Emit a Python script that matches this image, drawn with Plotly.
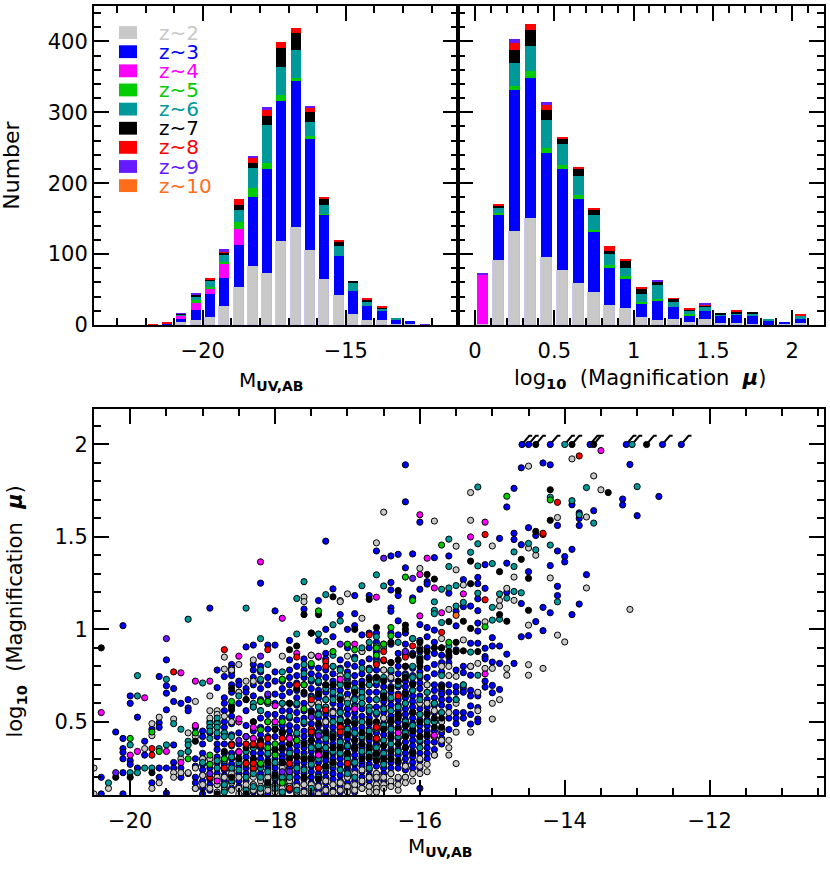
import plotly.graph_objects as go

W, H = 830, 882

# stacked histograms, counts read per bin
z_labels = ["z~2", "z~3", "z~4", "z~5", "z~6", "z~7", "z~8", "z~9", "z~10"]
z_colors = ["#c8c8c8", "#0000ff", "#ff00ff", "#00cc00", "#009999", "#000000", "#ff0000", "#6619ff", "#ff6d1a"]

muv_bins = [-21.75, -21.25, -20.75, -20.25, -19.75, -19.25, -18.75, -18.25, -17.75, -17.25, -16.75,
            -16.25, -15.75, -15.25, -14.75, -14.25, -13.75, -13.25, -12.75, -12.25]
muv_z2 = [0, 0, 5, 7, 11, 27, 54, 84, 74, 119, 138, 106, 65, 42, 15, 7, 7, 2, 1, 0]
muv_z3 = [0, 2, 3, 15, 33, 40, 59, 97, 146, 197, 206, 157, 91, 55, 33, 20, 13, 6, 5, 0]
muv_z4 = [0, 0, 6, 9, 8, 19, 23, 0, 0, 0, 0, 0, 0, 0, 0, 0, 0, 0, 0, 0]
muv_z5 = [0, 0, 0, 4, 2, 3, 9, 13, 8, 8, 5, 3, 1, 0, 0, 0, 0, 0, 0, 0]
muv_z6 = [0, 0, 1, 6, 9, 10, 17, 27, 54, 40, 39, 21, 13, 14, 12, 5, 3, 2, 0, 0]
muv_z7 = [0, 0, 1, 2, 1, 3, 8, 8, 13, 27, 24, 14, 9, 7, 2, 4, 2, 0, 0, 0]
muv_z8 = [1, 1, 0, 0, 3, 1, 8, 7, 8, 8, 7, 6, 2, 1, 0, 2, 1, 0, 0, 0]
muv_z9 = [0, 0, 1, 1, 0, 4, 0, 3, 4, 0, 0, 2, 0, 0, 0, 0, 0, 0, 0, 1]

mag_bins = [0.05, 0.15, 0.25, 0.35, 0.45, 0.55, 0.65, 0.75, 0.85, 0.95, 1.05,
            1.15, 1.25, 1.35, 1.45, 1.55, 1.65, 1.75, 1.85, 1.95, 2.05]
mag_z2 = [2, 92, 133, 151, 96, 78, 60, 46, 28, 24, 11, 7, 8, 5, 9, 3, 3, 2, 0, 1, 3]
mag_z3 = [0, 64, 199, 198, 146, 142, 118, 86, 52, 41, 19, 28, 17, 9, 11, 10, 12, 11, 6, 4, 6]
mag_z4 = [69, 0, 0, 0, 0, 0, 0, 0, 0, 0, 0, 0, 0, 0, 0, 0, 0, 0, 0, 0, 0]
mag_z5 = [0, 2, 5, 10, 8, 6, 6, 2, 5, 4, 2, 2, 0, 1, 0, 1, 0, 0, 1, 0, 0]
mag_z6 = [1, 7, 32, 35, 39, 30, 26, 21, 15, 11, 12, 19, 8, 5, 5, 1, 1, 4, 1, 0, 4]
mag_z7 = [0, 3, 19, 22, 14, 6, 10, 8, 5, 10, 8, 5, 4, 2, 3, 1, 3, 1, 0, 0, 1]
mag_z8 = [0, 3, 10, 8, 8, 3, 3, 1, 7, 3, 2, 0, 1, 1, 1, 0, 1, 0, 0, 0, 1]
mag_z9 = [1, 0, 5, 0, 3, 0, 0, 0, 0, 0, 0, 2, 0, 0, 1, 0, 0, 0, 0, 0, 0]

muv_stack = [muv_z2, muv_z3, muv_z4, muv_z5, muv_z6, muv_z7, muv_z8, muv_z9]
mag_stack = [mag_z2, mag_z3, mag_z4, mag_z5, mag_z6, mag_z7, mag_z8, mag_z9]

# scatter: one list of mu values per MUV column
z2_cols = [-20.5, -20.3, -19.8, -19.7, -19.6, -19.4, -19.3, -19.2, -19.1, -19.0, -18.9, -18.8, -18.7, -18.6, -18.5,
           -18.4, -18.3, -18.2, -18.1, -18.0, -17.9, -17.8, -17.7, -17.6, -17.5, -17.4, -17.3, -17.2, -17.1, -17.0,
           -16.9, -16.8, -16.7, -16.6, -16.5, -16.4, -16.3, -16.2, -16.1, -16.0, -15.9, -15.8, -15.7, -15.6, -15.5,
           -15.4, -15.3, -15.2, -15.1, -15.0, -14.9, -14.8, -14.7, -14.5, -14.4, -14.3, -14.2, -14.1, -14.0, -13.9,
           -13.7, -13.6, -13.5, -13.1]
z2_mu = [[.25, .11], [.14], [.355], [.49, .425, .14], [.525, .17], [.515, .225, .2], [.3, .225], [.44, .225],
         [.61, .42, .25, .14], [.3, .21, .16], [.64, .56, .52, .3, .27, .14], [.56, .54, .49, .47, .2, .16, .12],
         [.85, .785, .53, .2, .16, .13], [.78, .5, .38, .22, .17, .13], [.81, .66, .2, .14, .11], [.72, .2, .16, .13],
         [.835, .72, .2, .16, .13], [.18, .15, .12], [.2, .16, .13], [.2, .15, .12], [.855, .25, .18, .14, .11],
         [.18, .15], [.7, .15, .12], [1.175, 1.15, .7, .2, .16, .12], [.86, .6, .16, .13], [.72, .6, .2, .15, .11],
         [.5, .18, .13], [.55, .16, .12], [1.156, 1.15, .75, .17, .13], [1.192, .855, .62, .2, .15, .12],
         [.22, .16, .13], [1.06, .88, .24, .18, .14], [.78, .2, .15, .12], [1.468, .22, .2, .16, .14, .12],
         [1.634, .78, .52, .2, .16, .14], [.74, .22, .18, .15], [.2, .16, .13], [.26, .2, .17], [.22, .18],
         [1.33, .9, .6, .3, .26, .22], [.7, .6, .27, .23], [1.586, .6, .56, .42, .32], [.95, .8, .5, .46, .4],
         [1.108, .8, .75, .55, .4, .36, .32], [1.45, 1.322, .746, .6, .444, .274], [1.24, .943, .7], [1.74, 1.59, .8, .444],
         [.816, .66, .56], [1.041, .789], [1.451, .789, .6, .515], [1.157, 1.126, .62], [1.222, .789, .752], [1.283, 1.157],
         [1.883, 1.44, 1.023, .809, .752], [1.401], [.789], [1.278], [1.605, .969], [.932], [1.922],
         [1.608, 1.224], [1.83], [1.755], [1.108]]

z3_cols = [-20.4, -20.2, -20.1, -20.0, -19.9, -19.8, -19.7, -19.6, -19.5, -19.4, -19.3, -19.2, -19.1, -19.0, -18.9,
           -18.8, -18.7, -18.6, -18.5, -18.4, -18.3, -18.2, -18.1, -18.0, -17.9, -17.8, -17.7, -17.6, -17.5, -17.4,
           -17.3, -17.2, -17.1, -17.0, -16.9, -16.8, -16.7, -16.6, -16.5, -16.4, -16.3, -16.2, -16.1, -16.0, -15.9,
           -15.8, -15.7, -15.6, -15.5, -15.4, -15.3, -15.2, -15.1, -15.0, -14.9, -14.8, -14.7, -14.6, -14.5, -14.4,
           -14.3, -14.2, -14.1, -14.0, -13.9, -13.8, -13.7, -13.6, -13.2, -13.1, -13.0, -12.7]
z3_mu = [[.2, .11], [.445], [1.02, .41, .355, .335, .3, .225, .11], [.64, .6, .29, .27], [.525, .25], [.395, .32],
         [.46, .17], [.745, .495, .47, .25, .2], [.835, .695, .655, .565, .25, .115], [.68, .61, .375, .28, .25],
         [.6, .25, .2], [.62, .575, .56, .34, .22], [.47, .3, .26, .2, .17, .14],
         [.45, .42, .38, .33, .3, .27, .24, .21, .18, .14, .11],
         [1.115, .5, .47, .44, .3, .27, .25, .22, .19, .16, .13],
         [.78, .685, .5, .42, .38, .35, .31, .28, .25, .22, .19, .16],
         [.745, .63, .6, .56, .5, .47, .44, .38, .33, .3, .27, .24, .21, .18, .14],
         [.81, .79, .77, .75, .7, .66, .58, .53, .49, .43, .38, .33, .3, .27, .24, .21, .14],
         [.72, .7, .66, .6, .5, .44, .38, .33, .3, .26, .22, .18, .15],
         [.905, .68, .66, .62, .56, .48, .42, .38, .34, .31, .28, .25, .22, .18, .14, .11],
         [.915, .81, .78, .74, .7, .64, .58, .5, .45, .41, .36, .33, .3, .27, .24, .21, .16, .12],
         [1.25, .8, .77, .72, .68, .62, .56, .52, .47, .43, .39, .36, .33, .3, .27, .25, .22, .19, .13, .11],
         [.915, .74, .7, .64, .6, .54, .5, .46, .42, .38, .35, .32, .29, .26, .24, .21, .18, .15, .11],
         [1.1, .915, .77, .72, .65, .6, .54, .5, .46, .42, .38, .35, .33, .3, .27, .25, .22, .19, .16, .13],
         [.72, .68, .64, .6, .56, .52, .48, .45, .41, .38, .35, .32, .3, .27, .24, .21, .19, .16, .13, .11],
         [.94, .835, .78, .74, .7, .66, .6, .56, .52, .48, .45, .42, .38, .35, .32, .3, .27, .25, .22, .19, .16, .13],
         [.8, .75, .71, .67, .63, .59, .55, .51, .47, .43, .4, .37, .34, .31, .28, .26, .23, .2, .17, .14, .11],
         [1.11, .84, .78, .74, .7, .65, .6, .56, .52, .49, .45, .42, .39, .36, .33, .3, .28, .25, .22, .19, .16, .13],
         [.98, .86, .8, .76, .72, .68, .64, .6, .56, .53, .49, .46, .43, .4, .37, .34, .31, .29, .26, .23, .2, .17, .14, .11],
         [1.156, .94, .85, .79, .75, .71, .67, .63, .59, .55, .52, .48, .45, .42, .39, .36, .33, .31, .28, .25, .22, .19, .16, .13],
         [1.477, 1.0, .87, .84, .78, .74, .7, .66, .62, .58, .54, .51, .48, .45, .42, .39, .36, .34, .31, .29, .26, .23, .2, .17, .14, .11],
         [1.219, .96, .8, .76, .72, .68, .64, .6, .56, .53, .5, .47, .44, .41, .38, .36, .33, .3, .28, .25, .22, .19, .16, .13],
         [1.08, .835, .79, .75, .71, .67, .63, .59, .56, .52, .49, .46, .43, .4, .37, .35, .32, .3, .27, .24, .21, .18, .15, .12],
         [1.0, .9, .81, .77, .73, .69, .65, .61, .57, .54, .5, .47, .44, .41, .38, .36, .33, .31, .28, .25, .23, .2, .17, .14],
         [1.183, 1.085, 1.02, .85, .8, .75, .71, .67, .63, .59, .55, .52, .49, .46, .43, .4, .37, .35, .32, .29, .27, .24, .21, .18, .15, .12],
         [.97, .88, .82, .76, .72, .68, .64, .6, .57, .53, .5, .47, .44, .41, .38, .36, .33, .31, .28, .26, .23, .2, .17, .14],
         [1.183, .98, .9, .84, .79, .74, .7, .66, .62, .58, .55, .52, .49, .46, .43, .4, .37, .35, .32, .3, .27, .24, .21, .18, .15],
         [1.424, .98, .93, .88, .84, .78, .74, .7, .66, .62, .58, .54, .5, .47, .44, .41, .38, .35, .32, .29, .26, .22, .19, .16, .13],
         [.92, .83, .78, .73, .69, .65, .61, .58, .55, .52, .49, .46, .43, .4, .37, .34, .31, .28, .25, .22, .18],
         [1.397, 1.254, 1.213, 1.116, 1.098, .98, .92, .82, .77, .73, .69, .66, .62, .59, .56, .53, .5, .47, .44, .41, .38, .35, .32, .28, .25, .22, .16],
         [1.406, 1.183, 1.046, .97, .87, .8, .76, .72, .69, .65, .62, .59, .56, .53, .5, .47, .44, .41, .38, .35, .32, .28, .25, .19],
         [1.89, 1.69, 1.333, .98, .92, .86, .8, .76, .72, .69, .66, .63, .6, .57, .54, .51, .48, .45, .42, .39, .36, .33, .3, .27, .24, .2],
         [1.408, 1.17, .95, .87, .79, .75, .71, .67, .64, .61, .58, .55, .52, .49, .46, .43, .4, .37, .34, .31, .28, .25],
         [1.58, 1.217, 1.026, .94, .88, .83, .77, .74, .71, .68, .64, .6, .57, .54, .51, .48, .45, .42, .39, .36, .33, .29, .25, .14],
         [1.258, 1.245, 1.01, .96, .9, .85, .79, .74, .7, .66, .62, .58, .55, .51, .48, .45, .42, .39, .36, .33, .3],
         [1.388, .996, .93, .87, .81, .76, .7, .67, .63, .59, .55, .5, .45, .42, .39, .35, .32],
         [.9, .86, .82, .77, .7, .67, .65, .62, .59, .55, .5, .44, .41, .38],
         [1.397, 1.196, .85, .82, .7, .66, .62, .58, .52, .458],
         [1.098, 1.019, .889, .78, .69, .66, .62, .55, .52, .49],
         [1.269, 1.123, .8, .766, .68, .66, .55, .52],
         [1.126, .925, .8, .752, .67, .64, .586, .54, .488],
         [1.281, 1.247, 1.165, 1.101, 1.034, .991, .925, .657, .64, .577, .515, .5],
         [1.35, 1.222, .898, .853, .84, .72, .688], [.955, .91, .823, .697, .657], [1.492, .91, .816, .675],
         [1.662, 1.358, 1.2, .866], [1.763, 1.52, 1.486, .816], [1.874, 1.458, 1.14, .96], [1.55, 1.312, .966],
         [1.508, 1.042], [1.9, 1.119, .993], [1.89, 1.09, 1.345], [1.562, 1.424, 1.233, 1.183], [1.394, 1.365],
         [1.674, 1.433, 1.08], [1.63, 1.6, 1.562, 1.137], [1.296], [1.642], [1.705, 1.673], [1.892], [1.615], [1.719]]

z6_cols = [-20.3, -20.0, -19.9, -19.8, -19.7, -19.6, -19.5, -19.4, -19.3, -19.2, -19.0, -18.9, -18.8, -18.7, -18.6,
           -18.5, -18.4, -18.3, -18.2, -18.1, -18.0, -17.9, -17.8, -17.7, -17.6, -17.5, -17.4, -17.3, -17.2, -17.1,
           -17.0, -16.9, -16.8, -16.7, -16.6, -16.5, -16.4, -16.3, -16.2, -16.1, -16.0, -15.9, -15.8, -15.7, -15.6,
           -15.5, -15.4, -15.3, -15.2, -15.0, -14.9, -14.8, -14.7, -14.6, -14.5, -14.4, -14.2, -14.1, -13.9, -13.8,
           -13.7, -13.6, -13.0]
z6_mu = [[.17], [.375, .225], [.75, .64, .225], [.25], [.25], [.355], [.73, .375], [.49], [.46, .33],
         [1.055, .395, .375, .34], [.71, .28], [.49, .47, .45, .41], [.52, .49, .47, .44, .29, .25],
         [.44, .42, .29, .16, .12], [.42, .37, .31, .25, .18], [.64, .28, .24], [1.115, .34, .27, .2, .13],
         [.6, .58, .36, .28, .22, .15], [.95, .78, .73, .56, .37, .25, .2, .14], [.81, .6, .33, .23, .16],
         [.48, .46, .28, .2, .14], [.77, .6, .44, .28, .2, .12], [.6, .53, .41, .33, .2],
         [1.167, .975, .6, .44, .4, .25, .13], [1.258, .81, .76, .5, .31, .24], [.73, .63, .44, .4, .36, .27, .14],
         [.975, .72, .65, .58, .54, .44, .37, .3, .2], [1.188, .935, .68, .62, .58, .56, .41, .36, .25],
         [1.025, .86, .8, .7, .66, .62, .5, .43, .34, .27], [1.045, .78, .7, .64, .55, .51, .39, .33, .24],
         [.75, .71, .6, .5, .46, .37, .3, .22], [.84, .68, .62, .58, .5, .44, .36, .28, .2],
         [1.236, .9, .79, .66, .63, .6, .5, .42, .34], [.93, .78, .7, .58, .56, .45, .33, .25],
         [1.295, .96, .91, .82, .72, .62, .55, .46, .36, .3], [1.235, .9, .74, .66, .57, .48, .4, .33, .27],
         [.78, .63, .56, .5, .46, .38, .3], [.93, .7, .58, .54, .42, .34], [.88, .75, .6, .5, .44],
         [.95, .8, .74, .67, .55, .48], [.85, .75, .62, .54, .4, .36], [.66, .5], [1.149, 1.103, 1.085, .6, .5],
         [1.217, 1.037, .75, .55], [1.488, 1.34, 1.224, .91], [1.237, 1.126, .62], [1.146, .7], [1.417, .877],
         [1.77, 1.463, 1.343, 1.196, .752], [1.356, 1.119, 1.05], [1.192, 1.055], [1.169], [1.419, 1.34, 1.205],
         [1.198], [1.465], [1.43], [1.715, 1.456], [1.149], [1.696], [1.62], [1.767], [1.575], [1.772]]

z7_cols = [-20.4, -20.2, -20.0, -19.7, -19.1, -18.8, -18.7, -18.6, -18.5, -18.4, -18.3, -18.2, -18.1, -18.0, -17.9,
           -17.8, -17.7, -17.6, -17.5, -17.4, -17.3, -17.2, -17.1, -17.0, -16.9, -16.8, -16.7, -16.6, -16.5, -16.4,
           -16.3, -16.2, -16.1, -16.0, -15.9, -15.8, -15.7, -15.6, -15.5, -15.4, -15.3, -15.2, -14.9, -14.8, -14.6,
           -14.5, -14.4, -14.2, -13.4]
z7_mu = [[.9], [.2], [.2], [.225], [.395], [.11], [.34], [.68, .585, .565, .2], [.3], [.62, .36, .11], [.5, .3],
         [.4, .27], [.28, .17], [.46, .35, .21], [.44, .36, .28], [.89, .6, .38, .3], [.91, .68, .4, .31],
         [1.08, .66, .38, .3, .2], [.98, .55, .4, .3], [1.08, .65, .49, .34, .19], [.7, .44, .32, .26],
         [1.176, .7, .42, .36, .28], [.62, .48, .36], [.7, .5, .43, .33, .27], [1.0, .66, .49, .4, .36], [.7, .44, .38, .3],
         [1.162, .73, .5, .42, .36, .31], [1.01, .74, .5, .4, .33, .29], [.72, .64, .63, .46, .37, .3],
         [.93, .82, .68, .51, .5, .42, .34, .3], [1.21, .835, .72, .54, .52, .46, .38, .29],
         [1.023, 1.0, .8, .74, .65, .48, .42, .36], [.86, .7, .55, .45, .33], [.93, .89, .84, .82, .8, .5, .42],
         [1.297, .88, .54, .43], [1.272, .9, .52, .47], [.9, .69, .52, .47], [1.042, .88, .86], [.93, .88],
         [1.044, .884], [1.369, 1.247, 1.005], [.88], [1.312, 1.08], [1.044], [1.379], [1.276, 1.103], [1.53],
         [1.755, 1.59], [1.74]]

z4_mag = [-20.4, -19.8, -19.3, -19.1, -18.9, -18.5, -17.9, -17.7, -17.4, -16.9, -18.2, -16.0, -15.1, -15.3, -15.9, -16.0,
          -15.8, -15.4, -16.6, -15.7, -16.0, -13.5, -15.1, -15.8, -16.3, -20.0, -19.9, -19.5, -19.3, -19.1, -18.8,
          -18.5, -18.4, -18.5, -17.1, -18.0, -18.3, -18.0, -18.3, -17.8, -17.4, -18.5, -18.5, -18.9, -16.9]
z4_mu = [.55, .63, .765, .72, .72, .855, 1.06, .87, .855, .92, 1.365, 1.62, 1.58, 1.5, 1.385, 1.297,
         1.224, 1.192, 1.174, 1.09, 1.073, 1.967, .759, .427, .44, .32, .34, .34, .28, .48, .18,
         .5, .42, .34, .73, .587, .47, .5, .41, .41, .32, .516, .337, .2, .57]

z5_mag = [-20.0, -19.7, -19.6, -19.1, -19.2, -18.9, -18.9, -18.7, -18.6, -18.2, -18.1, -17.9, -17.5, -17.2, -17.0, -16.9,
          -17.4, -14.2, -14.8, -15.7, -16.2, -16.1, -15.6, -15.1, -16.4, -16.4, -16.5, -16.6, -16.6, -17.9, -17.6, -18.2,
          -18.1, -17.6, -18.1, -17.9, -18.2, -18.1, -18.0, -18.0, -18.2, -17.7, -17.9]
z5_mu = [.41, .445, .34, .44, .3, .32, .27, .3, .61, .61, .61, .73, .815, .88, .92, .89,
         1.1, 1.7, 1.72, 1.456, 1.283, 1.156, .93, 1.014, 1.01, .965, .92, .9, .86, .73, .7, .61,
         .61, .57, .5, .5, .457, .36, .38, .32, .275, .4, .17]

z8_mag = [-19.4, -18.7, -18.1, -17.7, -17.3, -17.3, -16.7, -15.1, -15.1, -14.3, -15.7, -16.1, -16.5, -16.5, -16.6, -16.2,
          -16.3, -16.6, -16.6, -13.8, -14.1, -14.3, -19.7, -19.7, -18.6, -18.4, -18.2, -18.3, -18.7, -18.4, -18.9,
          -17.8, -18.3, -17.8, -17.4, -17.0, -18.1, -17.9, -17.5, -17.3, -17.1, -17.1, -17.5, -17.5, -16.6, -16.6,
          -18.4, -18.3, -18.3, -17.7, -17.4]
z8_mu = [.77, .89, .89, .85, .825, .8, .97, 1.16, 1.513, 1.513, .984, .91, .88, .835, .81, .85,
         .64, .475, .41, 1.938, 1.687, 1.52, .355, .32, .375, .375, .375, .375, .25, .275, .2,
         .14, .25, .275, .25, .275, .41, .41, .62, .565, .47, .445, .46, .445, .47, .41,
         .38, .38, .275, .7, .25]

z9_mag = [-19.5, -16.5, -16.1, -20.2, -18.2, -17.1, -18.9, -16.2, -18.4, -18.1, -17.5, -17.4, -17.9, -17.8, -18.5]
z9_mu = [.95, 1.385, 1.276, .225, .855, .92, .22, .88, .42, .65, .525, .425, .23, .23, .4]

z10_mag = [-15.5]
z10_mu = [1.076]

# lower limits at log10(mu) = 2, arrows point up and to the faint side
limit_mag = [-14.59, -14.5, -14.4, -14.2, -14.0, -13.9, -13.65, -13.6, -13.15, -13.07, -12.87, -12.65, -12.39]
limit_mu = [2, 2, 2, 2, 2, 2, 2, 2, 2, 2, 2, 2, 2]
limit_z = [1, 1, 5, 1, 4, 5, 1, 5, 1, 4, 5, 1, 1]


def flatten(cols, mus):
    xs, ys = [], []
    for m, vals in zip(cols, mus):
        for v in vals:
            xs.append(m)
            ys.append(v)
    return xs, ys


def bar_traces(fig, bins, stack, xaxis, yaxis, width):
    for i, counts in enumerate(stack):
        line = dict(width=0.8, color="#bdb9e6") if i == 0 else dict(width=0)
        fig.add_trace(go.Bar(x=bins, y=counts, width=width, marker=dict(color=z_colors[i], line=line),
                             xaxis=xaxis, yaxis=yaxis, showlegend=False))


fig = go.Figure()
bar_traces(fig, muv_bins, muv_stack, "x", "y", 0.35)
bar_traces(fig, mag_bins, mag_stack, "x2", "y2", 0.07)

# arrows first so the dots sit on top of them
arrow_x, arrow_y = [], []
for m, v in zip(limit_mag, limit_mu):
    arrow_x += [m, m + 0.1, m + 0.14, None]
    arrow_y += [v, v + 0.047, v + 0.047, None]
fig.add_trace(go.Scatter(x=arrow_x, y=arrow_y, mode="lines", line=dict(color="black", width=2),
                         xaxis="x3", yaxis="y3", showlegend=False))

DOT = 6.2
# blue goes under the grey so the low-mu grey dots stay visible
layers = [(z3_cols, z3_mu, 1), (z2_cols, z2_mu, 0), (z6_cols, z6_mu, 4), (z7_cols, z7_mu, 5)]
for cols, mus, zi in layers:
    xs, ys = flatten(cols, mus)
    fig.add_trace(go.Scatter(x=xs, y=ys, mode="markers", xaxis="x3", yaxis="y3", showlegend=False,
                             marker=dict(size=DOT, color=z_colors[zi], line=dict(color="black", width=1))))
for xs, ys, zi in [(z4_mag, z4_mu, 2), (z5_mag, z5_mu, 3), (z8_mag, z8_mu, 6), (z9_mag, z9_mu, 7), (z10_mag, z10_mu, 8)]:
    fig.add_trace(go.Scatter(x=xs, y=ys, mode="markers", xaxis="x3", yaxis="y3", showlegend=False,
                             marker=dict(size=DOT, color=z_colors[zi], line=dict(color="black", width=1))))
fig.add_trace(go.Scatter(x=limit_mag, y=limit_mu, mode="markers", xaxis="x3", yaxis="y3", showlegend=False,
                         marker=dict(size=DOT, color=[z_colors[i] for i in limit_z], line=dict(color="black", width=1))))

FONT = "DejaVu Sans"


def axis(rng, domain, dtick, minor, anchor, labels=True, tick0=0, standoff=0):
    return dict(range=rng, domain=domain, anchor=anchor, dtick=dtick, tick0=tick0, showgrid=False, zeroline=False,
                showline=True, linewidth=2, linecolor="black", mirror="allticks", ticks="inside", ticklen=15,
                tickwidth=2, tickcolor="black", showticklabels=labels, ticklabelstandoff=standoff,
                tickfont=dict(family=FONT, size=21, color="black"),
                minor=dict(dtick=minor, tick0=tick0, ticks="inside", ticklen=7, tickwidth=2, tickcolor="black",
                           showgrid=False))


def px_x(a, b):
    return [a / W, b / W]


def px_y(top, bottom):
    return [1 - bottom / H, 1 - top / H]


top_dom = px_y(6, 329.5)
low_dom = px_y(415, 806)
fig.update_layout(
    width=W, height=H, margin=dict(l=0, r=0, t=0, b=0), paper_bgcolor="white", plot_bgcolor="white",
    barmode="stack", bargap=0, font=dict(family=FONT, color="black"),
    xaxis=axis([-23.8, -11.08], px_x(94, 458), 5, 1, "y", standoff=6),
    yaxis=axis([0, 450], top_dom, 100, 20, "x"),
    xaxis2=axis([-0.107, 2.2], px_x(458, 824), 0.5, 0.1, "y2", standoff=6),
    yaxis2=axis([0, 450], top_dom, 100, 20, "x2", labels=False),
    xaxis3=axis([-20.5, -10.42], px_x(94, 824), 2, 0.5, "y3", standoff=6),
    yaxis3=axis([0.104, 2.19], low_dom, 0.5, 0.1, "x3"),
)


def note(text, x, y, size=21, color="black", rot=0, xanchor="center"):
    fig.add_annotation(text=text, x=x / W, y=1 - y / H, xref="paper", yref="paper",
                       showarrow=False, textangle=rot, xanchor=xanchor, yanchor="middle",
                       font=dict(family=FONT, size=size, color=color))


muv_title = "M<sub><b>UV,AB</b></sub>"
mu_title = "log<sub><b>10</b></sub>\u00a0 (Magnification\u00a0 <b><i>μ</i></b>)"
note("Number", 12, 168, size=22, rot=-90)
note(muv_title, 271, 386, size=20)
note(mu_title, 640, 384, size=21)
note(muv_title, 440, 859, size=20)
note(mu_title, 16, 620, size=21, rot=-90)

# hand-placed legend, label colours follow the swatches
for i, label in enumerate(z_labels):
    row = 33 + i * 19.4
    fig.add_shape(type="rect", xref="paper", yref="paper", x0=119 / W, x1=137 / W,
                  y0=1 - (row - 6.5) / H, y1=1 - (row + 6.5) / H,
                  fillcolor=z_colors[i], line=dict(width=0))
    note(label, 157, row, size=20, color=z_colors[i], xanchor="left")

# the default 8px body margin would push the figure out of the window
fig.write_html("out.html", config={"displayModeBar": False}, post_script="document.body.style.margin = '0';")
